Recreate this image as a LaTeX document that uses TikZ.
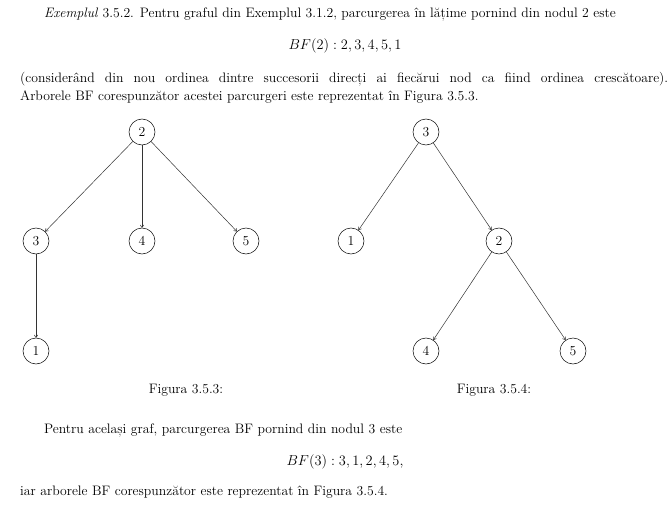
\documentclass[tikz,border=0pt]{standalone}
\usepackage{fontspec}
\usetikzlibrary{arrows.meta}
\begin{document}
\begin{tikzpicture}[x=1pt,y=-1pt,
  vtx/.style={circle,draw,line width=0.5pt,minimum size=26pt,inner sep=0pt,font=\fontsize{13.7}{16}\selectfont},
  edge/.style={line width=0.5pt,draw=black!80,-{To[length=3pt,width=4pt]}},
  txt/.style={anchor=base west,inner sep=0pt,font=\fontsize{13.7}{16}\selectfont},
  ctr/.style={anchor=base,inner sep=0pt,font=\fontsize{13.7}{16}\selectfont}]
\useasboundingbox (0,0) rectangle (670,527);
\node[txt] (l1) at (44,18) {\emph{Exemplul} 3.5.2. Pentru graful din Exemplul 3.1.2, parcurgerea în lățime pornind din nodul 2 este};
\node[ctr] (f1) at (345,50) {$BF(2):2,3,4,5,1$};
\node[txt] (l3) at (20,83) {\makebox[648pt][s]{(considerând din nou ordinea dintre succesorii direcți ai fiecărui nod ca fiind ordinea crescătoare).}};
\node[txt] (l4) at (20,101) {Arborele BF corespunzător acestei parcurgeri este reprezentat în Figura 3.5.3.};
% left tree
\node[vtx] (a2) at (142,132) {2};
\node[vtx] (a3) at (36,241) {3};
\node[vtx] (a4) at (142,241) {4};
\node[vtx] (a5) at (246,241) {5};
\node[vtx] (a1) at (36,351) {1};
\draw[edge] (a2) -- (a3);
\draw[edge] (a2) -- (a4);
\draw[edge] (a2) -- (a5);
\draw[edge] (a3) -- (a1);
% right tree
\node[vtx] (b3) at (426,132) {3};
\node[vtx] (b1) at (351,241) {1};
\node[vtx] (b2) at (499,241) {2};
\node[vtx] (b4) at (426,351) {4};
\node[vtx] (b5) at (573,351) {5};
\draw[edge] (b3) -- (b1);
\draw[edge] (b3) -- (b2);
\draw[edge] (b2) -- (b4);
\draw[edge] (b2) -- (b5);
\node[ctr] (c1) at (186,393) {Figura 3.5.3:};
\node[ctr] (c2) at (494,393) {Figura 3.5.4:};
\node[txt] (l5) at (44,433) {Pentru același graf, parcurgerea BF pornind din nodul 3 este};
\node[ctr] (f2) at (345,465) {$BF(3):3,1,2,4,5,$};
\node[txt] (l6) at (20,495) {iar arborele BF corespunzător este reprezentat în Figura 3.5.4.};
\end{tikzpicture}
\end{document}
